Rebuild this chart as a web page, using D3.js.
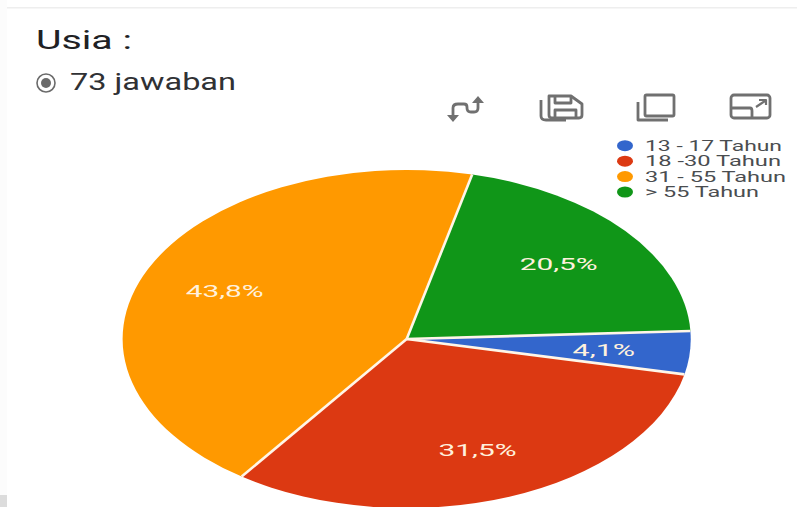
<!DOCTYPE html>
<html>
<head>
<meta charset="utf-8">
<script src="https://cdn.jsdelivr.net/npm/d3@7/dist/d3.min.js"></script>
<style>
  html, body { margin: 0; padding: 0; background: #fff; }
  svg { display: block; }
  text { font-family: Roboto, "Liberation Sans", sans-serif; }
</style>
</head>
<body>
<svg id="chart" width="797" height="507"></svg>
<script>
const categories = ["13 - 17 Tahun", "18 -30 Tahun", "31 - 55 Tahun", "> 55 Tahun"];
const responses = [3, 23, 32, 15];
const colours = ["#3366cc", "#dc3912", "#ff9900", "#109618"];
const titleText = "Usia :";
const answerText = "73 jawaban";

const svg = d3.select("#chart");
const total = d3.sum(responses);
const percent = v => (v / total * 100).toFixed(1).replace(".", ",") + "%";

// Text helper: the card is stretched sideways, so each string gets an explicit width.
function label(parent, str, x, y, width, size, fill, anchor) {
  return parent.append("text")
    .attr("x", x).attr("y", y)
    .attr("font-size", size)
    .attr("fill", fill)
    .attr("text-anchor", anchor || "start")
    .attr("textLength", width)
    .attr("lengthAdjust", "spacingAndGlyphs")
    .text(str);
}

// Card edges
svg.append("rect").attr("x", 7).attr("y", 7).attr("width", 790).attr("height", 1.5).attr("fill", "#eeeeee");
svg.append("rect").attr("x", 0).attr("y", 0).attr("width", 7).attr("height", 507).attr("fill", "#fcfcfc");
svg.append("rect").attr("x", 0).attr("y", 495).attr("width", 7).attr("height", 12).attr("fill", "#dcdcdc");

// Header
label(svg, titleText, 36, 49, 96, 26, "#202124");
svg.append("circle").attr("cx", 46).attr("cy", 83).attr("r", 9).attr("fill", "none").attr("stroke", "#6a6a6a").attr("stroke-width", 1.6);
svg.append("circle").attr("cx", 46).attr("cy", 83).attr("r", 5).attr("fill", "#6a6a6a");
label(svg, answerText, 70, 90, 166, 23, "#303134");

// Toolbar icons
const icons = svg.append("g").attr("fill", "none").attr("stroke", "#707070").attr("stroke-width", 2.8).attr("stroke-linejoin", "round");
// swap
icons.append("path").attr("d", "M453 116 L453 108 Q453 104 458 104 L464 104 Q467 104 467 107 L467 108 Q467 112 471 112 L474 112 Q478 112 478 108 L478 100");
icons.append("path").attr("fill", "#707070").attr("stroke", "none").attr("d", "M478 96 L484 103 L472 103 Z M453 122 L447 115 L459 115 Z");
// save
icons.append("path").attr("d", "M549 96 L571 96 L582 104 L582 115 Q582 118 579 118 L552 118 Q549 118 549 115 Z");
icons.append("path").attr("d", "M555 96 L555 103 L571 103 L571 96 M555 118 L555 110 L576 110 L576 118");
icons.append("path").attr("d", "M541 100 L541 116 Q541 120 546 120 L566 120");
// copy
icons.append("rect").attr("x", 645).attr("y", 95).attr("width", 29).attr("height", 21).attr("rx", 1.5);
icons.append("path").attr("d", "M638 102 L638 120 L668 120");
// expand
icons.append("rect").attr("x", 731).attr("y", 95).attr("width", 39).attr("height", 23).attr("rx", 3);
icons.append("path").attr("d", "M731 108 L750 108 Q752 108 752 111 L752 118");
icons.append("path").attr("stroke-width", 2.2).attr("d", "M756 107 L765 101 M759 100 L766 100 L766 105");

// Pie, drawn on a unit circle and stretched to the card's ellipse
const rx = d3.scaleLinear().domain([0, 1]).range([0, 284]);
const ry = d3.scaleLinear().domain([0, 1]).range([0, 169]);
const cx = 406.7, cy = 339;

const startAngle = 87.3 * Math.PI / 180;
const pie = d3.pie().sort(null).startAngle(startAngle).endAngle(startAngle + 2 * Math.PI);
const slices = pie(responses);
const sliceArc = d3.arc().innerRadius(0).outerRadius(1);
const labelArc = d3.arc().innerRadius(0.7).outerRadius(0.7);

const plot = svg.append("g").attr("transform", `translate(${cx},${cy})`);
const wedges = plot.append("g").attr("transform", `scale(${rx(1)},${ry(1)})`);
wedges.selectAll("path.slice")
  .data(slices)
  .join("path")
  .attr("class", "slice")
  .attr("d", sliceArc)
  .attr("fill", (d, i) => colours[i]);

// Separators between slices only; the outer rim stays unstroked
wedges.selectAll("line")
  .data(slices)
  .join("line")
  .attr("x1", 0).attr("y1", 0)
  .attr("x2", d => Math.sin(d.startAngle))
  .attr("y2", d => -Math.cos(d.startAngle))
  .attr("stroke", "#fff6e8")
  .attr("stroke-width", 2.6)
  .attr("vector-effect", "non-scaling-stroke");

plot.selectAll("text")
  .data(slices)
  .join("text")
  .attr("x", d => rx(labelArc.centroid(d)[0]) - 1)
  .attr("y", d => ry(labelArc.centroid(d)[1]) + 7)
  .attr("text-anchor", "middle")
  .attr("font-size", 16.5)
  .attr("fill", "#fff1dd")
  .attr("textLength", d => percent(d.value).length * 15.6)
  .attr("lengthAdjust", "spacingAndGlyphs")
  .text(d => percent(d.value));

// Legend
const legendY = d3.scalePoint().domain(categories).range([145.7, 192]);
const legendWidths = [137, 136, 141, 114];
const legend = svg.append("g");
legend.selectAll("ellipse")
  .data(categories)
  .join("ellipse")
  .attr("cx", 625).attr("cy", d => legendY(d))
  .attr("rx", 8).attr("ry", 5.5)
  .attr("fill", (d, i) => colours[i]);
categories.forEach((c, i) => label(legend, c, 645, legendY(c) + 5, legendWidths[i], 14, "#4a4d50"));
</script>
</body>
</html>
